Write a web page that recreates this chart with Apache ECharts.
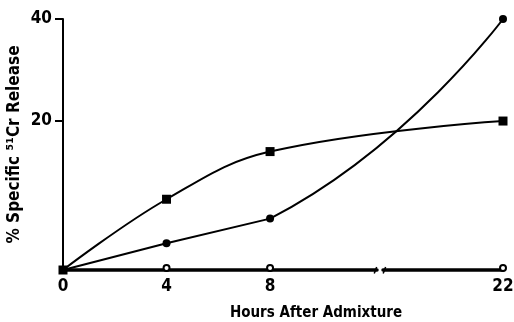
<!DOCTYPE html>
<html><head><meta charset="utf-8">
<script src="https://cdn.jsdelivr.net/npm/echarts@6/dist/echarts.min.js"></script>
<style>html,body{margin:0;padding:0;background:#fff}#c{width:514px;height:322px}</style>
</head><body><div id="c"></div>
<script>
const hours = [0, 4, 8, 22];
const squareSeries = [0, 9.5, 15.9, 20];
const filledCircleSeries = [0, 3.6, 6.9, 40];
const openCircleSeries = [0, 0, 0, 0];
const xTickValues = [0, 4, 8, 22];
const yTickValues = [20, 40];
const xBreak = {start: 12.13, end: 17.36, gap: 0.23};
const yBreak = {start: 20.01, end: 39.99, gap: 13.68};

const FONT = "'DejaVu Sans Condensed', 'Liberation Sans', sans-serif";
const pair = arr => hours.map((h, i) => [h, arr[i]]);
const circlePts = pair(filledCircleSeries);

const chart = echarts.init(document.getElementById('c'), null, {renderer: 'canvas'});
const option = {
  animation: false,
  backgroundColor: '#fff',
  grid: {left: 63, right: 11, top: 19, bottom: 52, containLabel: false, outerBoundsMode: 'none'},
  xAxis: {
    type: 'value', min: 0, max: 22,
    breaks: [xBreak],
    breakArea: {show: false},
    name: 'Hours After Admixture', nameLocation: 'middle', nameGap: 36,
    nameTextStyle: {fontFamily: FONT, fontWeight: 'bold', fontSize: 15, color: '#000', padding: [0, 0, 0, 66]},
    axisLine: {lineStyle: {color: '#000', width: 3.5}},
    axisTick: {show: false},
    axisLabel: {customValues: xTickValues, fontFamily: FONT, fontWeight: 'bold', fontSize: 17, color: '#000', margin: 8},
    splitLine: {show: false}
  },
  yAxis: [{
    type: 'value', min: 0, max: 40,
    breaks: [yBreak],
    breakArea: {show: false},
    name: '% Specific \u2075\u00b9Cr Release', nameLocation: 'middle', nameGap: 40,
    nameMoveOverlap: false,
    nameTextStyle: {fontFamily: FONT, fontWeight: 'bold', fontSize: 17, color: '#000'},
    axisLine: {show: true, lineStyle: {color: '#000', width: 2}},
    axisTick: {show: true, customValues: yTickValues, length: 8, lineStyle: {color: '#000', width: 2}},
    axisLabel: {customValues: yTickValues, fontFamily: FONT, fontWeight: 'bold', fontSize: 17, color: '#000', margin: 11},
    splitLine: {show: false}
  }, {
    type: 'value', min: 0, max: 40, position: 'left', offset: 0,
    axisLine: {show: true, lineStyle: {color: '#000', width: 2}},
    axisTick: {show: false}, axisLabel: {show: false}, splitLine: {show: false}
  }],
  series: [
    {
      type: 'line', data: pair(openCircleSeries).map((p, i) => i === 0 ? {value: p, symbol: 'none'} : p),
      symbol: 'emptyCircle', symbolSize: 6, symbolOffset: [0, -2], clip: false,
      lineStyle: {opacity: 0},
      itemStyle: {color: '#000', borderWidth: 1.5}
    },
    {
      type: 'line', data: pair(squareSeries), smooth: 0.4,
      symbol: 'rect', symbolSize: 9, clip: false,
      lineStyle: {color: '#000', width: 2}, itemStyle: {color: '#000'}
    },
    {
      type: 'line', data: circlePts.slice(0, 3),
      symbol: 'circle', symbolSize: 8, clip: false,
      lineStyle: {color: '#000', width: 2}, itemStyle: {color: '#000'}
    },
    {
      type: 'line', data: circlePts.slice(1), smooth: 0.55,
      symbol: 'none', clip: false, z: 1,
      lineStyle: {color: 'rgba(0,0,0,0)', width: 2}
    },
    {
      type: 'scatter', data: circlePts.slice(3),
      symbol: 'circle', symbolSize: 8, clip: false,
      itemStyle: {color: '#000', opacity: 1}
    }
  ]
};
chart.setOption(option);

// hide the 4→8 part of the smoothed curve (already drawn straight by the other series)
const xa = chart.convertToPixel({xAxisIndex: 0}, circlePts[1][0]);
const xb = chart.convertToPixel({xAxisIndex: 0}, circlePts[2][0]);
const xc = chart.convertToPixel({xAxisIndex: 0}, circlePts[3][0]);
const f = (xb - xa) / (xc - xa);
// slanted marks at both ends of the axis break
const bx0 = chart.convertToPixel({xAxisIndex: 0}, xBreak.start);
const bx1 = chart.convertToPixel({xAxisIndex: 0}, xBreak.end);
const by = chart.convertToPixel({yAxisIndex: 0}, 0);
const slash = (x, d) => ({
  type: 'line', z: 100, silent: true,
  shape: {x1: x + d - 1.2, y1: by + 3.5, x2: x + d + 1.2, y2: by - 3},
  style: {stroke: '#000', lineWidth: 1.5}
});
chart.setOption({
  graphic: [slash(bx0, -1.5), slash(bx1, 1.5)],
  series: [{}, {}, {}, {
    lineStyle: {
      color: new echarts.graphic.LinearGradient(0, 0, 1, 0, [
        {offset: 0, color: 'rgba(0,0,0,0)'},
        {offset: f - 0.002, color: 'rgba(0,0,0,0)'},
        {offset: f + 0.002, color: '#000'},
        {offset: 1, color: '#000'}
      ])
    }
  }, {}]
});
</script></body></html>
